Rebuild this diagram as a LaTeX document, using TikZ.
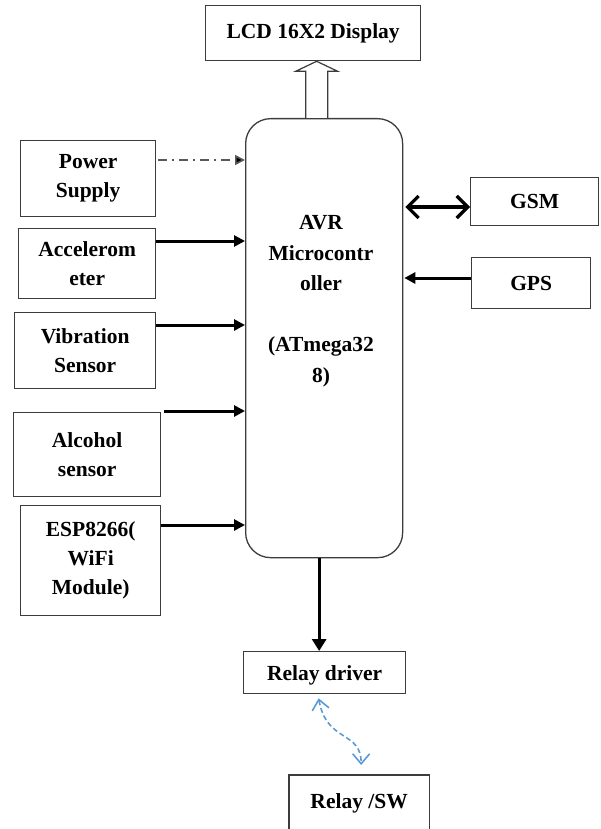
\documentclass[tikz,border=0pt]{standalone}
\usepackage{fontspec}
\setmainfont{Liberation Serif}
\usetikzlibrary{arrows.meta,calc}
\definecolor{edge}{RGB}{60,60,60}
\definecolor{relayblue}{RGB}{91,155,213}
\tikzset{
  box/.style={draw=edge, line width=1.3pt, anchor=north west, align=center, inner sep=2pt,
    font=\fontsize{21.5}{29}\selectfont\bfseries},
  solidarr/.style={line width=3pt, -{Triangle[length=11pt,width=11pt]}},
  downarr/.style={line width=3pt, -{Triangle[length=12pt,width=14pt]}},
  dasharr/.style={line width=1.6pt, draw=gray!70!black, dash pattern=on 9pt off 5pt on 2pt off 5pt,
    -{Triangle[length=10pt,width=10pt, fill=black]}},
  dblarr/.style={line width=3.2pt, {Straight Barb[length=11pt,width=22pt]}-{Straight Barb[length=11pt,width=22pt]}},
  bluearr/.style={line width=1.6pt, draw=relayblue, dash pattern=on 5pt off 3pt,
    {Straight Barb[length=10pt,width=17pt]}-{Straight Barb[length=10pt,width=17pt]}},
}
\begin{document}
\begin{tikzpicture}[x=1pt,y=-1pt]
\useasboundingbox (0,0) rectangle (600,829);
\node[box, minimum width=215pt, minimum height=55pt] (lcd) at (205,5) {LCD 16X2 Display};
\node[draw=edge, line width=1.3pt, rounded corners=25pt, minimum width=157pt, minimum height=439pt, anchor=north west] (main) at (245,118) {};
\node[align=center, font=\fontsize{21.5}{30.5}\selectfont\bfseries] (maintext) at (321,301)
  {AVR\\Microcontr\\oller\\[30.5pt](ATmega32\\8)};
\node[box, minimum width=135pt, minimum height=76pt] (ps) at (20,140) {Power\\Supply};
\node[box, minimum width=137pt, minimum height=70pt] (acc) at (18,228) {Accelerom\\eter};
\node[box, minimum width=141pt, minimum height=76pt] (vib) at (14,312) {Vibration\\Sensor};
\node[box, minimum width=147pt, minimum height=84pt] (alc) at (13,412) {Alcohol\\sensor};
\node[box, minimum width=140pt, minimum height=110pt] (esp) at (20,505) {ESP8266(\\WiFi\\Module)};
\node[box, minimum width=128pt, minimum height=48pt, text depth=-5pt] (gsm) at (470,177) {GSM};
\node[box, minimum width=119pt, minimum height=51pt] (gps) at (471,257) {GPS};
\node[box, minimum width=162pt, minimum height=42pt, text depth=-3pt] (rd) at (243,651) {Relay driver};
\node[box, draw=none, minimum width=139pt, minimum height=50pt, text depth=-3pt] (rsw) at (289,775) {Relay /SW};
\draw[edge, line width=1.3pt] ($(rsw.south west)+(0,20)$) -- (rsw.north west) -- (rsw.north east) -- ($(rsw.south east)+(0,20)$);
% hollow arrow to LCD
\coordinate (ha) at ([xshift=3.5pt]lcd.south);
\draw[edge, line width=1.2pt, fill=white]
  ([xshift=-11pt]ha |- main.north) -- ([xshift=-11pt,yshift=-10pt]ha) -- ([xshift=-21pt,yshift=-10pt]ha) -- (ha)
  -- ([xshift=21pt,yshift=-10pt]ha) -- ([xshift=11pt,yshift=-10pt]ha) -- ([xshift=11pt]ha |- main.north);
% inputs
\coordinate (p1) at ([xshift=2pt,yshift=-20pt]ps.north east);
\draw[dasharr] (p1) -- (p1 -| main.west);
\coordinate (p2) at ([yshift=-13pt]acc.north east);
\draw[solidarr] (p2) -- (p2 -| main.west);
\coordinate (p3) at ([yshift=-13pt]vib.north east);
\draw[solidarr] (p3) -- (p3 -| main.west);
\coordinate (p4) at ([xshift=3pt,yshift=1pt]alc.north east);
\draw[solidarr] (p4) -- (p4 -| main.west);
\coordinate (p5) at ([yshift=-20pt]esp.north east);
\draw[solidarr] (p5) -- (p5 -| main.west);
% GSM / GPS
\coordinate (p6) at ([yshift=-30pt]gsm.north west);
\draw[dblarr] ([xshift=2pt]p6 -| main.east) -- (p6);
\coordinate (p7) at ([yshift=-21pt]gps.north west);
\draw[solidarr] (p7) -- ([xshift=1pt]p7 -| main.east);
% output
\coordinate (p8) at ([xshift=-5pt]main.south);
\draw[downarr] (p8) -- (p8 |- rd.north);
\coordinate (p9) at ([xshift=-6pt,yshift=-4pt]rd.south);
\coordinate (p10) at ([xshift=2pt,yshift=10pt]rsw.north);
\draw[bluearr] (p9) .. controls ($(p9)+(8,45)$) and ($(p10)+(0,-35)$) .. (p10);
\end{tikzpicture}
\end{document}
